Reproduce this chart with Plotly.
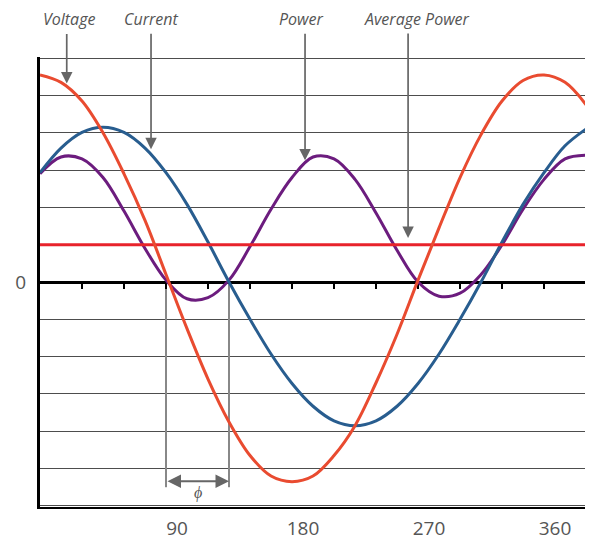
import plotly.graph_objects as go

# ---- data ----
angle_deg = [0, 15, 30, 45, 60, 75, 90, 105, 120, 135, 150, 165, 180, 195,
             210, 225, 240, 255, 270, 285, 300, 315, 330, 345, 360, 375, 390]
voltage = [5.55, 5.35, 4.85, 4.0, 2.9, 1.65, 0.2, -1.25, -2.6, -3.75, -4.65, -5.2, -5.35, -5.2,
           -4.65, -3.85, -2.7, -1.4, 0.05, 1.45, 2.8, 3.95, 4.85, 5.4, 5.55, 5.35, 4.75]
current = [2.93, 3.59, 4.01, 4.15, 4.01, 3.59, 2.93, 2.08, 1.07, 0.0, -1.0, -1.93, -2.72, -3.33,
           -3.72, -3.85, -3.72, -3.33, -2.72, -1.93, -1.0, 0.0, 1.07, 2.08, 2.93, 3.65, 4.1]
power = [2.9, 3.35, 3.3, 2.8, 1.9, 0.9, 0.05, -0.45, -0.42, 0.05, 0.95, 1.95, 2.8, 3.35,
         3.3, 2.75, 1.85, 0.85, 0.0, -0.38, -0.3, 0.2, 1.0, 1.95, 2.75, 3.3, 3.4]
average_power = 1.0
x_end = 391.4

x_tick_vals = [90, 180, 270, 360]
x_tick_text = ["90", "180", "270", "360"]
minor_ticks = [30, 60, 90, 120, 150, 180, 210, 240, 270, 300, 330, 360, 390]
y_grid = [-6, -5, -4, -3, -2, -1, 0, 1, 2, 3, 4, 5, 6]
y_text = ["", "", "", "", "", "", "0", "", "", "", "", "", ""]

# labels with their arrows: (text, label angle, tip angle, tip value)
label_names = ["Voltage", "Current", "Power", "Average Power"]
label_angles = [20.4, 79.3, 186.4, 269.3]
tip_angles = [19.1, 79.3, 189.3, 262.9]
tip_values = [5.32, 3.56, 3.26, 1.18]

phase_start = 90
phase_end = 135

C_V = "#E94B30"
C_I = "#285D8F"
C_P = "#6C1C7E"
C_AVG = "#E8232B"
GRAY = "#555555"
FONT = "Open Sans"

fig = go.Figure()
fig.add_trace(go.Scatter(x=angle_deg, y=power, mode="lines", line=dict(color=C_P, width=3, shape="spline"),
                         name="Power", hoverinfo="skip"))
fig.add_trace(go.Scatter(x=angle_deg, y=current, mode="lines", line=dict(color=C_I, width=3, shape="spline"),
                         name="Current", hoverinfo="skip"))
fig.add_trace(go.Scatter(x=[0, x_end], y=[average_power, average_power], mode="lines",
                         line=dict(color=C_AVG, width=3), name="Average Power", xaxis="x2", hoverinfo="skip"))
fig.add_trace(go.Scatter(x=angle_deg, y=voltage, mode="lines", line=dict(color=C_V, width=3, shape="spline"),
                         name="Voltage", xaxis="x2", hoverinfo="skip"))

annotations = []
for name, la, ta, tv in zip(label_names, label_angles, tip_angles, tip_values):
    annotations.append(dict(x=la, xref="x", y=1.085, yref="paper", yanchor="middle", text="<i>" + name + "</i>",
                            showarrow=False, font=dict(family=FONT, size=16, color=GRAY)))
    # arrow from just below the label down to the curve
    tip_px = 282 - tv * 37.4
    annotations.append(dict(x=ta, xref="x", y=tv, yref="y", text="", showarrow=True,
                            ax=0, ay=-(tip_px - 32), arrowhead=2, arrowsize=1.35, arrowwidth=1.7,
                            arrowcolor="#666666", standoff=0))

# phase angle double arrow
annotations.append(dict(x=phase_end, y=-5.34, xref="x", yref="y", ax=phase_start, ay=-5.34,
                        axref="x", ayref="y", text="", showarrow=True, arrowside="end+start",
                        arrowhead=2, startarrowhead=2, arrowsize=1.5, startarrowsize=1.5,
                        arrowwidth=1.8, arrowcolor="#666666", standoff=0, startstandoff=0))
annotations.append(dict(x=(phase_start + phase_end) / 2, y=-5.63, xref="x", yref="y",
                        text="<i>ϕ</i>", showarrow=False, font=dict(family=FONT, size=16, color=GRAY)))

shapes = []
for a in (phase_start, phase_end):
    shapes.append(dict(type="line", xref="x", yref="y", x0=a, x1=a, y0=0, y1=-5.5,
                       line=dict(color="#888888", width=2), layer="between"))

# the page body adds an 8px offset, so the figure is 8px smaller with margins adjusted
fig.update_layout(
    width=585, height=532,
    margin=dict(l=32, r=5, t=48.5, b=32.5, autoexpand=False),
    paper_bgcolor="white", plot_bgcolor="white",
    showlegend=False,
    annotations=annotations,
    shapes=shapes,
    xaxis=dict(range=[0, x_end], showline=True, linecolor="black", linewidth=1.5,
               tickvals=x_tick_vals, ticktext=x_tick_text, ticks="", showgrid=False, zeroline=False,
               tickfont=dict(family=FONT, size=19, color=GRAY), ticklabelshift=11,
               ticklabelstandoff=3, automargin=False),
    xaxis2=dict(range=[0, x_end], overlaying="x", anchor="free", position=0.5, side="bottom",
                showline=True, linecolor="black", linewidth=3, layer="below traces",
                ticks="outside", tickvals=minor_ticks, ticklen=5, tickwidth=2, tickcolor="black",
                showticklabels=False, showgrid=False, zeroline=False),
    yaxis=dict(range=[-6.03, 6.03], showline=True, linecolor="black", linewidth=3,
               tickvals=y_grid, ticktext=y_text, ticks="", showgrid=True, gridcolor="#4d4d4d",
               gridwidth=1, zeroline=False, ticklabelstandoff=7,
               tickfont=dict(family=FONT, size=19, color=GRAY), automargin=False),
)

fig.write_html("out.html")
